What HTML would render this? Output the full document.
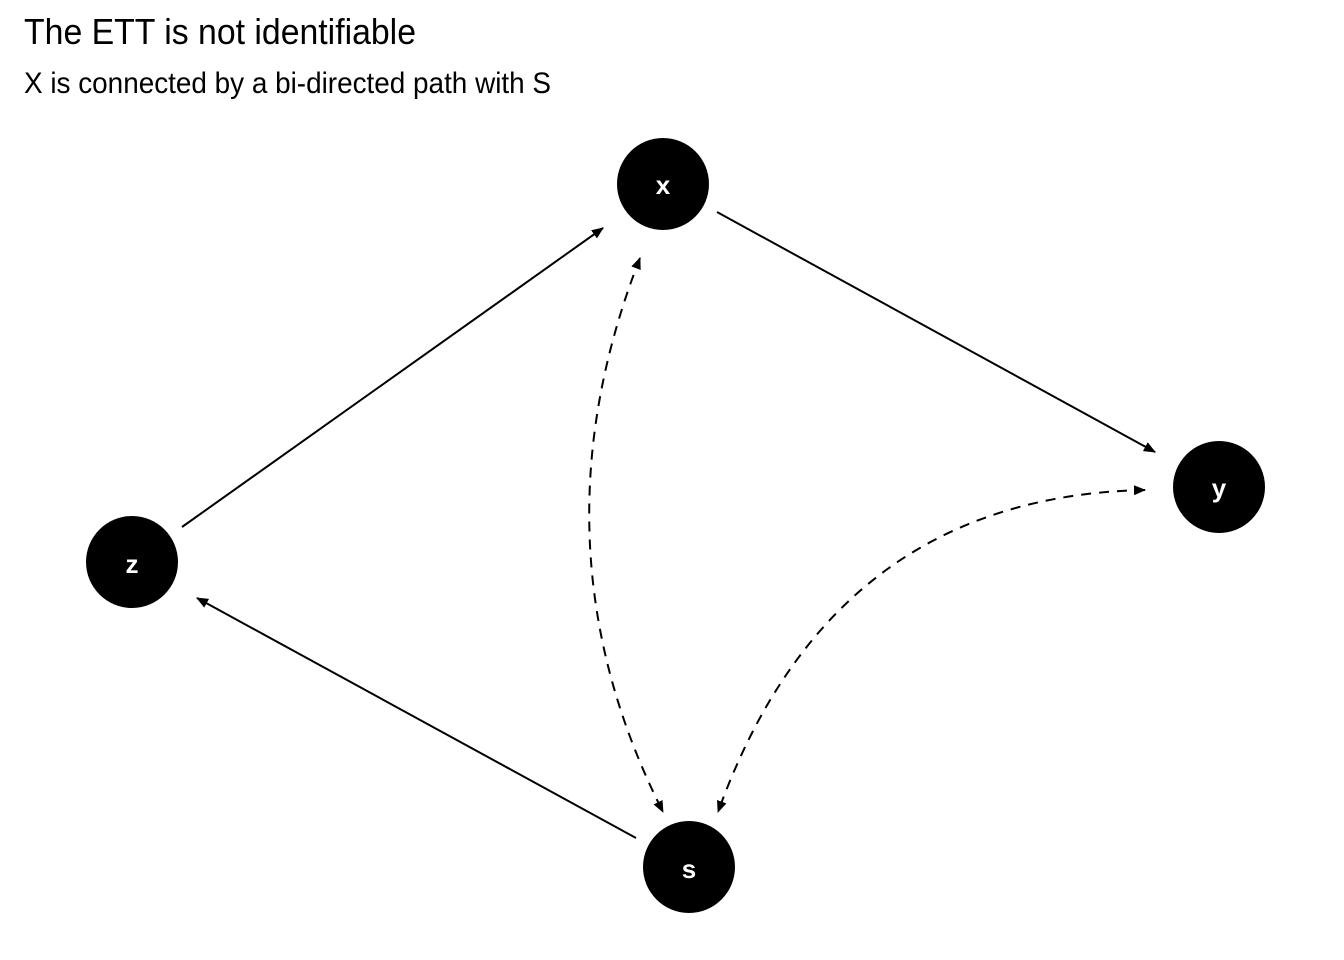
<!DOCTYPE html>
<html><head><meta charset="utf-8"><style>
html,body{margin:0;padding:0;background:#fff;}
svg{display:block;}
</style></head><body>
<svg width="1344" height="960" viewBox="0 0 1344 960" xmlns="http://www.w3.org/2000/svg">
<defs>
<marker id="a" markerWidth="12" markerHeight="10" refX="11" refY="5" orient="auto" markerUnits="userSpaceOnUse">
<path d="M0,0 L12,5 L0,10 Z" fill="#000"/>
</marker>
<marker id="b" markerWidth="12" markerHeight="10" refX="11" refY="5" orient="auto-start-reverse" markerUnits="userSpaceOnUse">
<path d="M0,0 L12,5 L0,10 Z" fill="#000"/>
</marker>
</defs>
<text x="24" y="44" font-family="Liberation Sans, sans-serif" font-size="36" textLength="392" lengthAdjust="spacingAndGlyphs" fill="#000">The ETT is not identifiable</text>
<text x="24" y="93" font-family="Liberation Sans, sans-serif" font-size="30" textLength="527" lengthAdjust="spacingAndGlyphs" fill="#000">X is connected by a bi-directed path with S</text>

<g stroke="#000" stroke-width="2" fill="none">
<line x1="182" y1="527" x2="603" y2="228" marker-end="url(#a)"/>
<line x1="717" y1="212" x2="1155" y2="452" marker-end="url(#a)"/>
<line x1="636" y1="838" x2="197" y2="598" marker-end="url(#a)"/>
<path d="M640,258 Q528,545 663,812" stroke-dasharray="10,8" marker-start="url(#b)" marker-end="url(#b)"/>
<path d="M1145,490 C900,495 780,640 718,812" stroke-dasharray="10,8" marker-start="url(#b)" marker-end="url(#b)"/>
</g>

<g fill="#000">
<circle cx="663" cy="184" r="46"/>
<circle cx="1219" cy="487" r="46"/>
<circle cx="132" cy="562" r="46"/>
<circle cx="689" cy="867" r="46"/>
</g>
<g fill="#fff" font-family="Liberation Sans, sans-serif" font-size="26" font-weight="bold" text-anchor="middle">
<text x="663" y="194">x</text>
<text x="1219" y="497">y</text>
<text x="132" y="573">z</text>
<text x="689" y="878">s</text>
</g>
</svg>
</body></html>
